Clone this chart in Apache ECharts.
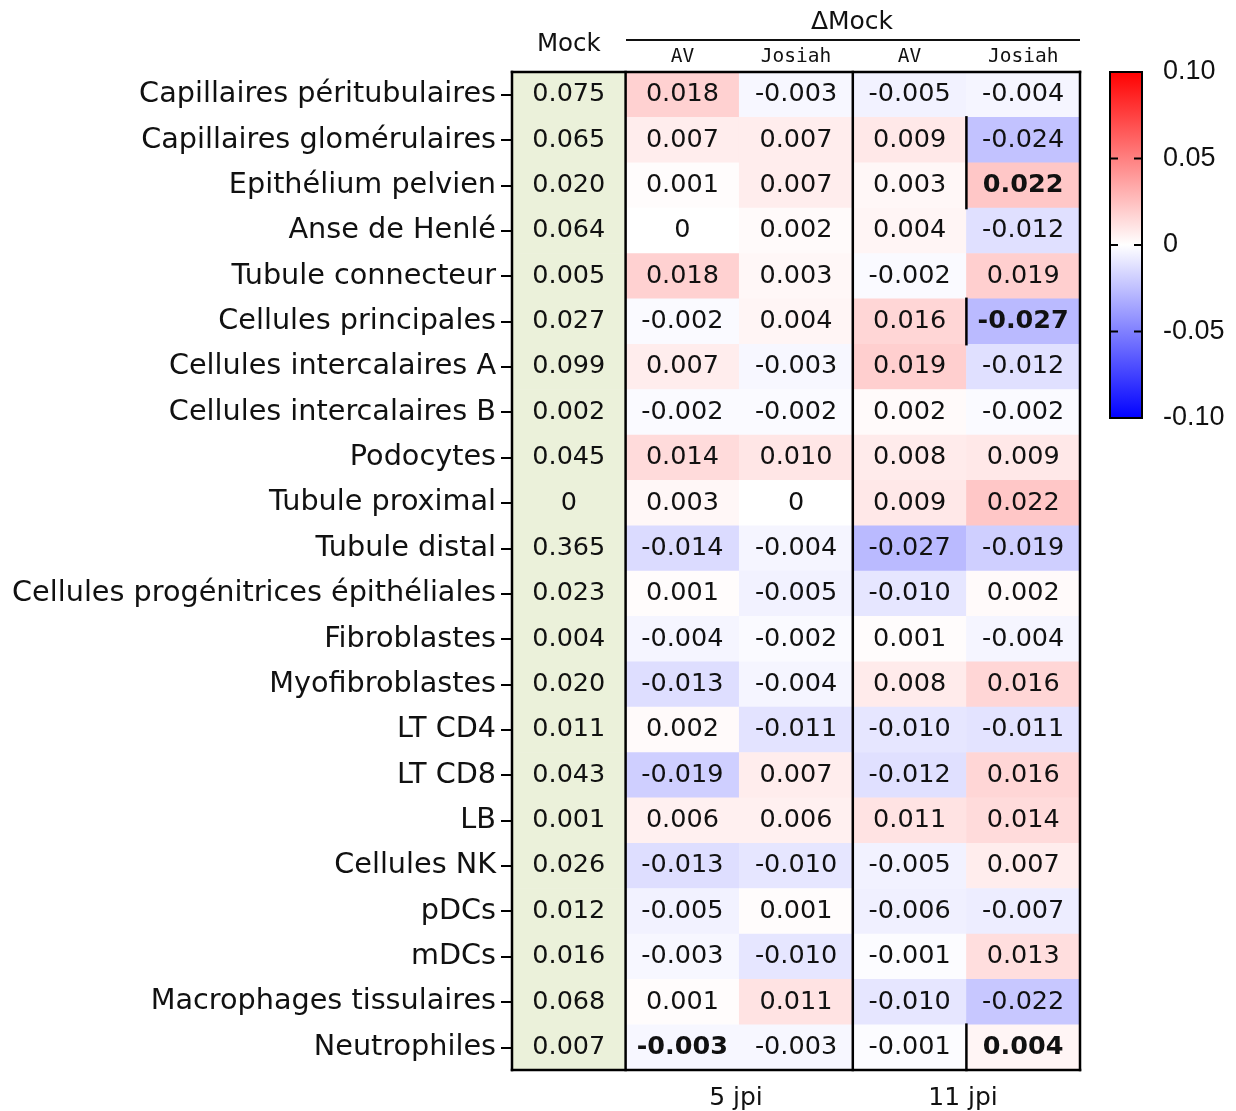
<!DOCTYPE html>
<html lang="fr" style="height: 100%">
<head>
  <meta charset="utf-8">
</head>
<body style="height: 100%; margin: 0; background: #fff">
<div id="container" style="width: 1236px; height: 1111px"></div>

<script type="text/javascript" src="https://fastly.jsdelivr.net/npm/echarts@6/dist/echarts.min.js"></script>
<script type="text/javascript">
  // lignes (types cellulaires)
  var cellTypes = [
    'Capillaires péritubulaires', 'Capillaires glomérulaires', 'Epithélium pelvien',
    'Anse de Henlé', 'Tubule connecteur', 'Cellules principales',
    'Cellules intercalaires A', 'Cellules intercalaires B', 'Podocytes',
    'Tubule proximal', 'Tubule distal', 'Cellules progénitrices épithéliales',
    'Fibroblastes', 'Myofibroblastes', 'LT CD4', 'LT CD8', 'LB', 'Cellules NK',
    'pDCs', 'mDCs', 'Macrophages tissulaires', 'Neutrophiles'
  ];
  // colonnes
  var columns = ['Mock', 'AV', 'Josiah', 'AV', 'Josiah'];
  var groups = ['5 jpi', '11 jpi'];

  var mock = [0.075, 0.065, 0.020, 0.064, 0.005, 0.027, 0.099, 0.002, 0.045, 0,
    0.365, 0.023, 0.004, 0.020, 0.011, 0.043, 0.001, 0.026, 0.012, 0.016, 0.068, 0.007];
  var av5 = [0.018, 0.007, 0.001, 0, 0.018, -0.002, 0.007, -0.002, 0.014, 0.003,
    -0.014, 0.001, -0.004, -0.013, 0.002, -0.019, 0.006, -0.013, -0.005, -0.003, 0.001, -0.003];
  var josiah5 = [-0.003, 0.007, 0.007, 0.002, 0.003, 0.004, -0.003, -0.002, 0.010, 0,
    -0.004, -0.005, -0.002, -0.004, -0.011, 0.007, 0.006, -0.010, 0.001, -0.010, 0.011, -0.003];
  var av11 = [-0.005, 0.009, 0.003, 0.004, -0.002, 0.016, 0.019, 0.002, 0.008, 0.009,
    -0.027, -0.010, 0.001, 0.008, -0.010, -0.012, 0.011, -0.005, -0.006, -0.001, -0.010, -0.001];
  var josiah11 = [-0.004, -0.024, 0.022, -0.012, 0.019, -0.027, -0.012, -0.002, 0.009, 0.022,
    -0.019, 0.002, -0.004, 0.016, -0.011, 0.016, 0.014, 0.007, -0.007, 0.013, -0.022, 0.004];

  // cellules en gras [colonne, ligne]
  var boldCells = [[4, 2], [4, 5], [1, 21], [4, 21]];
  // traits de séparation [x1, y1, x2, y2] en unités de cellules
  var separators = [
    [0, 0, 5, 0], [0, 22, 5, 22], [0, 0, 0, 22], [5, 0, 5, 22],
    [1, 0, 1, 22], [3, 0, 3, 22],
    [4, 1, 4, 3], [4, 5, 4, 6], [4, 21, 4, 22]
  ];

  // échelle de couleur
  var colorTicks = ['0.10', '0.05', '0', '-0.05', '-0.10'];
  var innerTicks = [0.05, 0, -0.05];

  function fmt(v) {
    return v === 0 ? '0' : v.toFixed(3);
  }
  function isBold(c, r) {
    return boldCells.some(function (b) { return b[0] === c && b[1] === r; });
  }

  var mockData = mock.map(function (v, r) { return [0, r, v]; });
  var deltaData = [];
  [av5, josiah5, av11, josiah11].forEach(function (arr, i) {
    arr.forEach(function (v, r) {
      var item = { value: [i + 1, r, v] };
      if (isBold(i + 1, r)) item.label = { fontWeight: 'bold' };
      deltaData.push(item);
    });
  });

  var dom = document.getElementById('container');
  var myChart = echarts.init(dom, null, { renderer: 'canvas' });

  var cellLabel = {
    show: true,
    fontFamily: 'DejaVu Sans',
    fontSize: 25.5,
    color: '#111',
    formatter: function (p) { return fmt(p.value[2]); }
  };

  var option = {
    animation: false,
    backgroundColor: '#fff',
    grid: [
      { left: 512, top: 72, width: 568, height: 998 },
      {
        left: 1110, top: 72, width: 32, height: 346, show: true,
        borderColor: '#000', borderWidth: 2,
        backgroundColor: {
          type: 'linear', x: 0, y: 0, x2: 0, y2: 1,
          colorStops: [
            { offset: 0, color: '#ff0000' },
            { offset: 0.5, color: '#ffffff' },
            { offset: 1, color: '#0000ff' }
          ]
        }
      }
    ],
    xAxis: [
      {
        type: 'category', data: columns, position: 'top', gridIndex: 0,
        axisLine: { show: false }, axisTick: { show: false }, splitLine: { show: false },
        axisLabel: {
          margin: 5,
          formatter: function (v, i) { return i === 0 ? '{m|' + v + '}' : '{s|' + v + '}'; },
          rich: {
            m: { fontFamily: 'DejaVu Sans', fontSize: 24.5, color: '#111', padding: [0, 0, 10, 0] },
            s: { fontFamily: 'DejaVu Sans Mono', fontSize: 19.5, color: '#111' }
          }
        }
      },
      { type: 'value', gridIndex: 0, min: 0, max: 5, show: false },
      { type: 'value', gridIndex: 1, min: 0, max: 1, show: false }
    ],
    yAxis: [
      {
        type: 'category', data: cellTypes, inverse: true, gridIndex: 0,
        axisLine: { show: false },
        axisTick: { show: true, alignWithLabel: true, length: 11, lineStyle: { color: '#000', width: 2 } },
        axisLabel: { margin: 16, fontFamily: 'DejaVu Sans', fontSize: 28.7, color: '#111' },
        splitLine: { show: false }
      },
      { type: 'value', gridIndex: 0, min: 0, max: 22, inverse: true, show: false },
      {
        type: 'value', gridIndex: 1, min: -0.1, max: 0.1, interval: 0.05, position: 'right',
        axisLine: { show: false }, splitLine: { show: false }, axisTick: { show: false },
        axisLabel: {
          margin: 21, fontFamily: 'Liberation Sans', fontSize: 27, color: '#111',
          formatter: function (v) {
            var i = Math.round((0.1 - v) / 0.05);
            return colorTicks[i];
          }
        }
      }
    ],
    visualMap: {
      show: false,
      type: 'continuous',
      min: -0.1,
      max: 0.1,
      dimension: 2,
      seriesIndex: 1,
      inRange: { color: ['#0000ff', '#ffffff', '#ff0000'] }
    },
    graphic: [
      { type: 'text', x: 852, y: 22, style: { text: 'ΔMock', font: '25px "DejaVu Sans"', fill: '#111', align: 'center', verticalAlign: 'middle' } },
      { type: 'line', shape: { x1: 626, y1: 40, x2: 1080, y2: 40 }, style: { stroke: '#111', lineWidth: 2 } },
      { type: 'text', x: 736, y: 1098, style: { text: groups[0], font: '25px "DejaVu Sans"', fill: '#111', align: 'center', verticalAlign: 'middle' } },
      { type: 'text', x: 963, y: 1098, style: { text: groups[1], font: '25px "DejaVu Sans"', fill: '#111', align: 'center', verticalAlign: 'middle' } }
    ],
    series: [
      {
        type: 'heatmap', xAxisIndex: 0, yAxisIndex: 0, data: mockData,
        itemStyle: { color: '#ebf1da' }, label: cellLabel
      },
      {
        type: 'heatmap', xAxisIndex: 0, yAxisIndex: 0, data: deltaData,
        label: cellLabel
      },
      {
        type: 'custom', xAxisIndex: 1, yAxisIndex: 1, z: 10, data: separators,
        renderItem: function (params, api) {
          var p1 = api.coord([api.value(0), api.value(1)]);
          var p2 = api.coord([api.value(2), api.value(3)]);
          return {
            type: 'line',
            shape: { x1: p1[0], y1: p1[1], x2: p2[0], y2: p2[1] },
            style: { stroke: '#000', lineWidth: 2.5, lineCap: 'square' }
          };
        }
      },
      {
        type: 'custom', xAxisIndex: 2, yAxisIndex: 2, z: 10,
        data: innerTicks.map(function (v) { return [0, v]; }),
        renderItem: function (params, api) {
          var l = api.coord([0, api.value(1)]);
          var r = api.coord([1, api.value(1)]);
          var st = { stroke: '#000', lineWidth: 2 };
          return {
            type: 'group',
            children: [
              { type: 'line', shape: { x1: l[0], y1: l[1], x2: l[0] + 8, y2: l[1] }, style: st },
              { type: 'line', shape: { x1: r[0] - 8, y1: r[1], x2: r[0], y2: r[1] }, style: st }
            ]
          };
        }
      }
    ]
  };

  myChart.setOption(option);
  window.addEventListener('resize', myChart.resize);
</script>
</body>
</html>
